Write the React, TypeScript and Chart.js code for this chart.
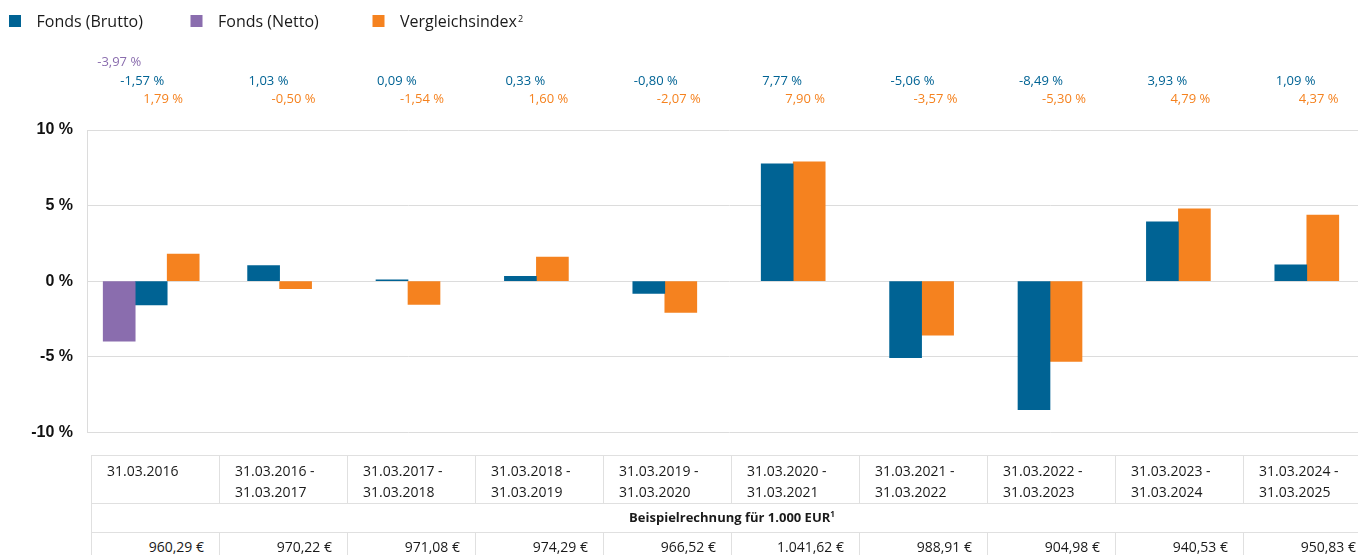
import React, { useEffect, useRef } from 'react';
import { Chart, registerables } from 'chart.js';

Chart.register(...registerables);

// ---------- data ----------
const categories: string[] = [
  '31.03.2016',
  '31.03.2016 - 31.03.2017',
  '31.03.2017 - 31.03.2018',
  '31.03.2018 - 31.03.2019',
  '31.03.2019 - 31.03.2020',
  '31.03.2020 - 31.03.2021',
  '31.03.2021 - 31.03.2022',
  '31.03.2022 - 31.03.2023',
  '31.03.2023 - 31.03.2024',
  '31.03.2024 - 31.03.2025',
];
const fondsNetto: (number | null)[] = [-3.97, null, null, null, null, null, null, null, null, null];
const fondsBrutto: number[] = [-1.57, 1.03, 0.09, 0.33, -0.8, 7.77, -5.06, -8.49, 3.93, 1.09];
const vergleichsindex: number[] = [1.79, -0.5, -1.54, 1.6, -2.07, 7.9, -3.57, -5.3, 4.79, 4.37];
const yTickValues: number[] = [-10, -5, 0, 5, 10];
const beispielWerte: number[] = [960.29, 970.22, 971.08, 974.29, 966.52, 1041.62, 988.91, 904.98, 940.53, 950.83];
const tableTitle = 'Beispielrechnung für 1.000 EUR';
const seriesLabels = { netto: 'Fonds (Netto)', brutto: 'Fonds (Brutto)', index: 'Vergleichsindex' };

// ---------- styles ----------
const COLORS = { netto: '#8a6dae', brutto: '#006394', index: '#f5821f' };
const FONT = "'Open Sans', sans-serif";
const GRID = '#dcdcdc';
const TABLE_LINE = '#e0e0e0';
const CANVAS_W = 1372;
const CANVAS_H = 456;

const fmtPct = (v: number) => v.toFixed(2).replace('.', ',') + ' %';
const fmtEur = (v: number) => {
  const [i, d] = v.toFixed(2).split('.');
  return i.replace(/\B(?=(\d{3})+(?!\d))/g, '.') + ',' + d + ' €';
};

const overlayPlugin = {
  id: 'overlay',
  afterDraw(chart: any) {
    const ctx = chart.ctx as CanvasRenderingContext2D;
    const xs = chart.scales.x;
    ctx.save();
    // legend (order: Brutto, Netto, Index)
    const order = [1, 0, 2];
    const lx = [9, 190.5, 372.5];
    order.forEach((dsIdx, k) => {
      const ds = chart.data.datasets[dsIdx];
      ctx.fillStyle = ds.backgroundColor;
      ctx.fillRect(lx[k], 15, 12, 12);
      ctx.fillStyle = '#1a1a1a';
      ctx.font = `16px ${FONT}`;
      ctx.textAlign = 'left';
      ctx.textBaseline = 'alphabetic';
      ctx.fillText(ds.label, lx[k] + 27.5, 26.5);
      if (dsIdx === 2) {
        const w = ctx.measureText(ds.label).width;
        ctx.font = `9px ${FONT}`;
        ctx.fillText('2', lx[k] + 27.5 + w + 1, 21.5);
      }
    });
    // value labels above chart
    const baseY = [66, 84.5, 103];
    const offX = [-54, -31, -8];
    ctx.font = `13px ${FONT}`;
    ctx.textAlign = 'left';
    ctx.textBaseline = 'alphabetic';
    chart.data.datasets.forEach((ds: any, d: number) => {
      ctx.fillStyle = ds.backgroundColor;
      ds.data.forEach((v: number | null, i: number) => {
        if (v === null || v === undefined) return;
        const cx = xs.getPixelForValue(i);
        ctx.fillText(fmtPct(v), cx + offX[d], baseY[d]);
      });
    });
    ctx.restore();
  },
};

function ChartCanvas() {
  const ref = useRef<HTMLCanvasElement | null>(null);
  useEffect(() => {
    if (!ref.current) return;
    const chart = new Chart(ref.current, {
      type: 'bar',
      data: {
        labels: categories,
        datasets: [
          { label: seriesLabels.netto, data: fondsNetto, backgroundColor: COLORS.netto },
          { label: seriesLabels.brutto, data: fondsBrutto, backgroundColor: COLORS.brutto },
          { label: seriesLabels.index, data: vergleichsindex, backgroundColor: COLORS.index },
        ] as any,
      },
      options: {
        responsive: false,
        animation: false,
        events: [],
        layout: { padding: { top: 130, bottom: 3, left: 0, right: 1 } },
        datasets: { bar: { barThickness: 32, skipNull: true, borderWidth: 0 } } as any,
        plugins: { legend: { display: false }, tooltip: { enabled: false } },
        scales: {
          x: { display: false, offset: true, grid: { display: false } },
          y: {
            min: -10,
            max: 10,
            afterFit: (s: any) => { s.width = 87; },
            afterBuildTicks: (s: any) => { s.ticks = yTickValues.map((v) => ({ value: v })); },
            grid: { color: GRID, drawTicks: false, lineWidth: 1 },
            border: { display: true, color: GRID },
            ticks: {
              padding: 14,
              color: '#111',
              font: { family: "'Liberation Sans', Arial, sans-serif", size: 16, weight: 'bold' },
              callback: (v: any) => `${v} %`,
            },
          },
        },
      },
      plugins: [overlayPlugin],
    });
    return () => chart.destroy();
  }, []);
  return (
    <canvas
      ref={ref}
      width={CANVAS_W}
      height={CANVAS_H}
      style={{ position: 'absolute', left: 0, top: 0, display: 'block', width: CANVAS_W, height: CANVAS_H }}
    />
  );
}

function DataTable() {
  const left = 91;
  const colW = 128;
  const cells = categories.map((c, i) => {
    const parts = c.split(' - ');
    return (
      <div
        key={'h' + i}
        style={{
          position: 'absolute', left: left + colW * i, top: 455, width: colW + 1, height: 48,
          boxSizing: 'border-box', borderTop: `1px solid ${TABLE_LINE}`, borderLeft: `1px solid ${TABLE_LINE}`,
          paddingLeft: 15, paddingTop: 4, fontSize: 14, lineHeight: '21px', whiteSpace: 'nowrap',
        }}
      >
        {parts.length > 1 ? (<>{parts[0]} -<br />{parts[1]}</>) : parts[0]}
      </div>
    );
  });
  const vals = beispielWerte.map((v, i) => (
    <div
      key={'v' + i}
      style={{
        position: 'absolute', left: left + colW * i, top: 532, width: colW + 1, height: 30,
        boxSizing: 'border-box', borderTop: `1px solid ${TABLE_LINE}`, borderLeft: `1px solid ${TABLE_LINE}`,
        paddingRight: 16, paddingTop: 3, fontSize: 14, lineHeight: '21px', textAlign: 'right', whiteSpace: 'nowrap',
      }}
    >
      {fmtEur(v)}
    </div>
  ));
  return (
    <div style={{ fontFamily: FONT, color: '#1a1a1a' }}>
      {cells}
      <div
        style={{
          position: 'absolute', left, top: 503, width: colW * 10 + 1, height: 29,
          boxSizing: 'border-box', borderTop: `1px solid ${TABLE_LINE}`, borderLeft: `1px solid ${TABLE_LINE}`,
          textAlign: 'center', fontSize: 13, fontWeight: 700, lineHeight: '26px', whiteSpace: 'nowrap',
        }}
      >
        {tableTitle}
        <sup style={{ fontSize: 8, lineHeight: 0, verticalAlign: 'super' }}>1</sup>
      </div>
      {vals}
    </div>
  );
}

export default function App() {
  return (
    <div style={{ position: 'absolute', left: 0, top: 0, width: 1358, height: 555, overflow: 'hidden', background: '#fff' }}>
      <ChartCanvas />
      <DataTable />
    </div>
  );
}
